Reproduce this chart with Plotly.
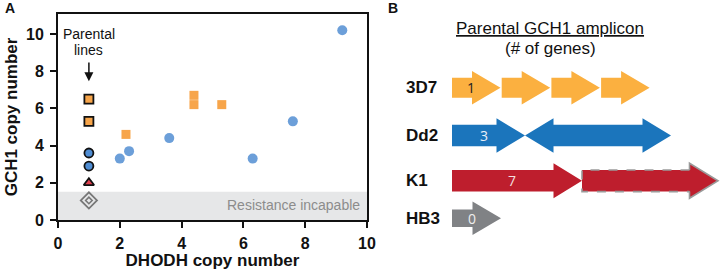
import plotly.graph_objects as go

# ---------------- Data ----------------
# Panel A: parental lines (DHODH copy number = 1)
parental_dhodh = 1
par_3d7_gch1 = [6.5, 5.3]
par_dd2_gch1 = [3.6, 2.9]
par_k1_gch1 = [2.0]
par_hb3_gch1 = [1.05]

# Panel A: selected lines
sel_3d7_dhodh = [2.2, 4.4, 4.4, 5.3]
sel_3d7_gch1 = [4.6, 6.7, 6.2, 6.2]
sel_dd2_dhodh = [2.0, 2.3, 3.6, 6.3, 7.6, 9.2]
sel_dd2_gch1 = [3.3, 3.7, 4.4, 3.3, 5.3, 10.2]

resistance_threshold = 1.52
x_ticks = [0, 2, 4, 6, 8, 10]
y_ticks = [0, 2, 4, 6, 8, 10]

# Panel B: parental GCH1 amplicons
strains = ["3D7", "Dd2", "K1", "HB3"]
genes_per_amplicon = [1, 3, 7, 0]
arrow_strain = ["3D7", "3D7", "3D7", "3D7", "Dd2", "Dd2", "Dd2", "K1", "K1", "HB3"]
arrow_dir = [1, 1, 1, 1, 1, -1, 1, 1, 1, 1]
arrow_len = [4.85, 4.85, 4.85, 4.85, 7.3, 7.3, 7.3, 13.0, 13.6, 4.9]
arrow_partial = [False, False, False, False, False, False, False, False, True, False]

# ---------------- Styles ----------------
FONT = "Arial, Liberation Sans, sans-serif"
ORANGE_SC = "#F7A54A"
BLUE_SC = "#6C9FD9"
PAR_BLUE = "#4F8DD3"
PAR_RED = "#E0404F"
arrow_color = {"3D7": "#FBB040", "Dd2": "#1B75BC", "K1": "#BE1E2D", "HB3": "#808285"}
label_color = {"3D7": "#222222", "Dd2": "#e8eef8", "K1": "#f3dede", "HB3": "#eeeeee"}
row_center = {"3D7": 8.77, "Dd2": 13.55, "K1": 18.08, "HB3": 21.83}
body_half = {"3D7": 1.0, "Dd2": 1.08, "K1": 1.08, "HB3": 0.87}
head_half = {"3D7": 1.67, "Dd2": 1.72, "K1": 1.75, "HB3": 1.67}
HEAD_LEN = 2.85
GAP = 0.12

fig = go.Figure()

# ---------------- Panel A ----------------
fig.add_shape(type="rect", xref="x", yref="y", x0=x_ticks[0], x1=x_ticks[-1],
              y0=0, y1=resistance_threshold, fillcolor="#E6E7E8",
              line=dict(width=0), layer="below")

fig.add_trace(go.Scatter(x=sel_dd2_dhodh, y=sel_dd2_gch1, mode="markers",
                         marker=dict(symbol="circle", size=10, color=BLUE_SC, line=dict(width=0)),
                         showlegend=False, xaxis="x", yaxis="y"))
fig.add_trace(go.Scatter(x=sel_3d7_dhodh, y=sel_3d7_gch1, mode="markers",
                         marker=dict(symbol="square", size=9, color=ORANGE_SC, line=dict(width=0)),
                         showlegend=False, xaxis="x", yaxis="y"))

fig.add_trace(go.Scatter(x=[parental_dhodh] * len(par_3d7_gch1), y=par_3d7_gch1, mode="markers",
                         marker=dict(symbol="square", size=9, color=ORANGE_SC,
                                     line=dict(width=1.8, color="#111111")),
                         showlegend=False, xaxis="x", yaxis="y"))
fig.add_trace(go.Scatter(x=[parental_dhodh] * len(par_dd2_gch1), y=par_dd2_gch1, mode="markers",
                         marker=dict(symbol="circle", size=9, color=PAR_BLUE,
                                     line=dict(width=1.8, color="#111111")),
                         showlegend=False, xaxis="x", yaxis="y"))
fig.add_trace(go.Scatter(x=[parental_dhodh] * len(par_k1_gch1), y=par_k1_gch1, mode="markers",
                         marker=dict(symbol="triangle-up", size=9, color=PAR_RED,
                                     line=dict(width=1.8, color="#111111")),
                         showlegend=False, xaxis="x", yaxis="y"))
fig.add_trace(go.Scatter(x=[parental_dhodh] * len(par_hb3_gch1), y=par_hb3_gch1, mode="markers",
                         marker=dict(symbol="diamond-open", size=12.5, color="#777777",
                                     line=dict(width=1.8, color="#777777")),
                         showlegend=False, xaxis="x", yaxis="y"))
fig.add_trace(go.Scatter(x=[parental_dhodh] * len(par_hb3_gch1), y=par_hb3_gch1, mode="markers",
                         marker=dict(symbol="diamond-open", size=5, color="#777777",
                                     line=dict(width=1.6, color="#777777")),
                         showlegend=False, xaxis="x", yaxis="y"))

annotations = []
annotations.append(dict(x=parental_dhodh, y=9.97, xref="x", yref="y", text="Parental",
                        showarrow=False, font=dict(family=FONT, size=14, color="#111111")))
annotations.append(dict(x=parental_dhodh, y=9.15, xref="x", yref="y", text="lines",
                        showarrow=False, font=dict(family=FONT, size=14, color="#111111")))
annotations.append(dict(x=parental_dhodh, y=7.45, xref="x", yref="y", ax=parental_dhodh, ay=8.55,
                        axref="x", ayref="y", text="", showarrow=True, arrowhead=2,
                        arrowsize=1.2, arrowwidth=1.5, arrowcolor="#111111"))
annotations.append(dict(x=9.85, y=0.78, xref="x", yref="y", text="Resistance incapable",
                        showarrow=False, xanchor="right",
                        font=dict(family=FONT, size=14, color="#8C8C8C")))
annotations.append(dict(x=3 / 720, y=1 - 8 / 270, xref="paper", yref="paper", text="<b>A</b>",
                        showarrow=False, xanchor="left", yanchor="middle",
                        font=dict(family=FONT, size=14, color="#111111")))

# ---------------- Panel B ----------------
annotations.append(dict(x=386 / 720, y=1 - 8 / 270, xref="paper", yref="paper", text="<b>B</b>",
                        showarrow=False, xanchor="left", yanchor="middle",
                        font=dict(family=FONT, size=14, color="#111111")))
annotations.append(dict(x=550 / 720, y=1 - 29 / 270, xref="paper", yref="paper",
                        text="<u>Parental GCH1 amplicon</u>", showarrow=False,
                        xanchor="center", yanchor="middle",
                        font=dict(family=FONT, size=17, color="#111111")))
annotations.append(dict(x=550 / 720, y=1 - 48 / 270, xref="paper", yref="paper",
                        text="(# of genes)", showarrow=False,
                        xanchor="center", yanchor="middle",
                        font=dict(family=FONT, size=17, color="#111111")))

for s in strains:
    annotations.append(dict(x=404 / 720, y=row_center[s], xref="paper", yref="y2",
                            text="<b>%s</b>" % s, showarrow=False, xanchor="left",
                            yanchor="middle",
                            font=dict(family=FONT, size=17, color="#111111")))


def arrow_path(start, length, direction, yc, bh, hh):
    if direction > 0:
        tip = start + length
        hb = tip - HEAD_LEN
        pts = [(start, yc - bh), (hb, yc - bh), (hb, yc - hh), (tip, yc),
               (hb, yc + hh), (hb, yc + bh), (start, yc + bh)]
    else:
        tip = start
        hb = tip + HEAD_LEN
        end = start + length
        pts = [(end, yc - bh), (hb, yc - bh), (hb, yc - hh), (tip, yc),
               (hb, yc + hh), (hb, yc + bh), (end, yc + bh)]
    return "M " + " L ".join("%.3f,%.3f" % p for p in pts) + " Z"


cursor = {s: 0.0 for s in strains}
first_arrow = {}
prev_dir = {}
for s, d, L, partial in zip(arrow_strain, arrow_dir, arrow_len, arrow_partial):
    start = cursor[s]
    # arrows meeting tip-to-tip (or tip-to-body on continuation) touch without a gap
    if s in prev_dir and (d != prev_dir[s] or partial):
        start -= GAP
    yc, bh, hh = row_center[s], body_half[s], head_half[s]
    if s not in first_arrow:
        first_arrow[s] = (start, L)
    fig.add_shape(type="path", xref="x2", yref="y2",
                  path=arrow_path(start, L, d, yc, bh, hh),
                  fillcolor=arrow_color[s], line=dict(width=0))
    if partial:
        hb = start + L - HEAD_LEN
        body = "M %.3f,%.3f L %.3f,%.3f L %.3f,%.3f L %.3f,%.3f" % (
            hb, yc - bh, start, yc - bh, start, yc + bh, hb, yc + bh)
        head = "M %.3f,%.3f L %.3f,%.3f L %.3f,%.3f L %.3f,%.3f L %.3f,%.3f" % (
            hb, yc - bh, hb, yc - hh, start + L, yc, hb, yc + hh, hb, yc + bh)
        fig.add_shape(type="path", xref="x2", yref="y2", path=body,
                      line=dict(color="#9A9A9A", width=1.6, dash="dash"))
        fig.add_shape(type="path", xref="x2", yref="y2", path=head,
                      line=dict(color="#9A9A9A", width=1.6))
    cursor[s] = start + L + GAP
    prev_dir[s] = d

for s, n in zip(strains, genes_per_amplicon):
    start, L = first_arrow[s]
    annotations.append(dict(x=start + L / 2 - 0.5, y=row_center[s], xref="x2", yref="y2",
                            text=str(n), showarrow=False,
                            font=dict(family="Open Sans, Noto Sans, sans-serif", size=14,
                                      color=label_color[s])))

fig.update_layout(
    width=720, height=270,
    margin=dict(l=0, r=0, t=0, b=0, autoexpand=False),
    paper_bgcolor="white", plot_bgcolor="white",
    annotations=annotations,
    xaxis=dict(domain=[58 / 720, 367 / 720], range=[0, 10], tickvals=x_ticks,
               ticks="outside", ticklen=6, tickwidth=1.8, tickcolor="#111111",
               showline=True, linewidth=1.8, linecolor="#111111", mirror=True,
               showgrid=False, zeroline=False, anchor="y", automargin=False,
               ticklabelstandoff=2,
               tickfont=dict(family=FONT, size=16, color="#111111", weight="bold"),
               title=dict(text="<b>DHODH copy number</b>", standoff=0,
                          font=dict(family=FONT, size=17, color="#111111"))),
    yaxis=dict(domain=[50 / 270, 256 / 270], range=[0, 11.07], tickvals=y_ticks,
               ticks="outside", ticklen=6, tickwidth=1.8, tickcolor="#111111",
               showline=True, linewidth=1.8, linecolor="#111111", mirror=True,
               showgrid=False, zeroline=False, anchor="x", automargin=False,
               ticklabelstandoff=3,
               tickfont=dict(family=FONT, size=16, color="#111111", weight="bold"),
               title=dict(text="<b>GCH1 copy number</b>", standoff=4,
                          font=dict(family=FONT, size=17, color="#111111"))),
    xaxis2=dict(domain=[452 / 720, 1], range=[0, 26.8], visible=False, anchor="y2",
                automargin=False),
    yaxis2=dict(domain=[0, 1], range=[27, 0], visible=False, anchor="x2",
                automargin=False),
)

fig.write_html("out.html", config={"displayModeBar": False},
               post_script="document.body.style.margin='0';")
